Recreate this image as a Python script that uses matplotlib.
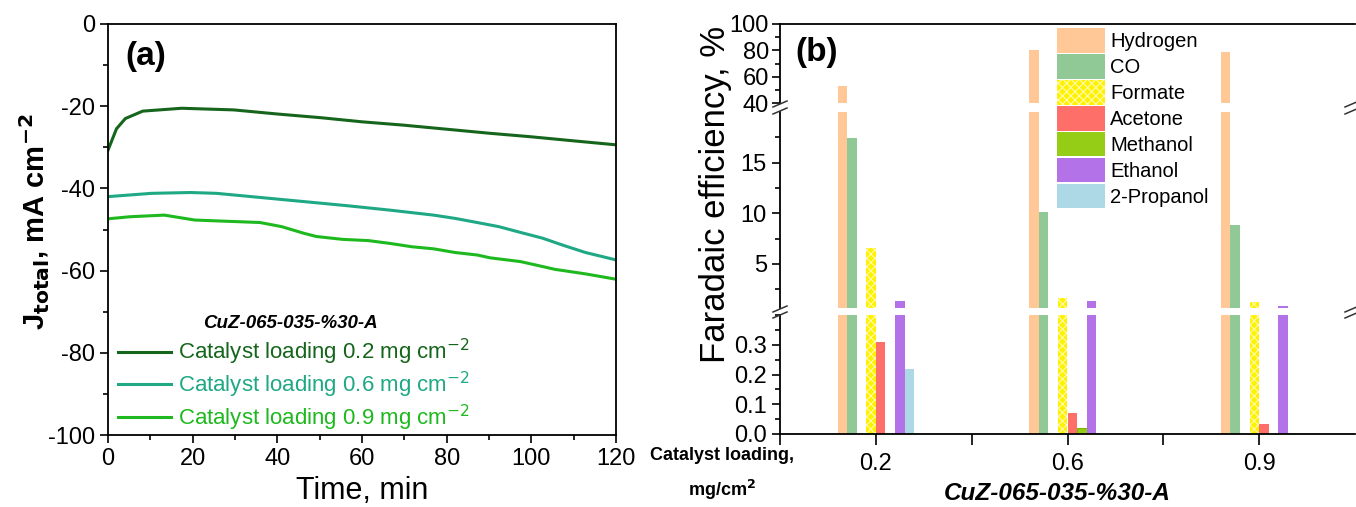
import numpy as np
import matplotlib
matplotlib.use("Agg")
import matplotlib.pyplot as plt
from matplotlib.lines import Line2D
from matplotlib.patches import Patch
from matplotlib.ticker import MultipleLocator

plt.rcParams['font.family'] = ['Liberation Sans', 'DejaVu Sans']
plt.rcParams['hatch.linewidth'] = 0.8
plt.rcParams['axes.unicode_minus'] = False

# panel (a): chronoamperometry
t_02 = [0, 2, 4.1, 8.2, 17.4, 29.7, 40, 50.3, 60, 69.7, 80, 90.3, 99.5, 109.7, 120]
j_02 = [-30.7, -25.5, -23.0, -21.2, -20.5, -20.9, -21.9, -22.8, -23.8, -24.6, -25.6, -26.6, -27.4, -28.4, -29.4]
t_06 = [0, 10.3, 19.5, 25.6, 35.9, 46.2, 56.4, 66.7, 76.9, 82, 87.2, 92.3, 97.4, 102.6, 107.7, 112.8, 120]
j_06 = [-42.0, -41.2, -41.0, -41.2, -42.2, -43.2, -44.2, -45.3, -46.5, -47.3, -48.3, -49.3, -50.7, -52.1, -53.9, -55.6, -57.4]
t_09 = [0, 5.1, 13.3, 20.5, 25.6, 35.9, 41, 46.2, 49.2, 55.4, 61.5, 66.7, 71.8, 76.9, 82, 87.2, 90.3, 97.4, 102.6, 105.6, 112.8, 120]
j_09 = [-47.4, -46.9, -46.5, -47.7, -47.9, -48.3, -49.3, -50.9, -51.7, -52.4, -52.7, -53.4, -54.2, -54.7, -55.6, -56.2, -56.9, -57.8, -59.0, -59.7, -60.8, -62.1]

# panel (b): faradaic efficiency, %
loadings = ['0.2', '0.6', '0.9']
products = ['Hydrogen', 'CO', 'Formate', 'Acetone', 'Methanol', 'Ethanol', '2-Propanol']
fe_hydrogen = [52.9, 80.2, 78.9]
fe_co = [17.4, 10.1, 8.8]
fe_formate = [6.6, 1.68, 1.22]
fe_acetone = [0.31, 0.072, 0.033]
fe_methanol = [0.0, 0.02, 0.0]
fe_ethanol = [1.32, 1.32, 0.85]
fe_propanol = [0.22, 0.0, 0.005]

W, H = 1356, 507
fig = plt.figure(figsize=(W / 100, H / 100), dpi=100)

def fx(px):
    return px / W

def fy(py):
    return 1 - py / H

tick_fs = 17

# ---------- (a) ----------
axa = fig.add_axes([fx(108), fy(435), fx(616) - fx(108), fy(24) - fy(435)])
c1, c2, c3 = '#16651c', '#1fa884', '#1eb91e'
axa.plot(t_02, j_02, color=c1, lw=2.2, label='Catalyst loading 0.2 mg cm$^{-2}$')
axa.plot(t_06, j_06, color=c2, lw=2.2, label='Catalyst loading 0.6 mg cm$^{-2}$')
axa.plot(t_09, j_09, color=c3, lw=2.2, label='Catalyst loading 0.9 mg cm$^{-2}$')
axa.set_xlim(0, 120)
axa.set_ylim(-100, 0)
axa.xaxis.set_major_locator(MultipleLocator(20))
axa.xaxis.set_minor_locator(MultipleLocator(10))
axa.yaxis.set_major_locator(MultipleLocator(20))
axa.yaxis.set_minor_locator(MultipleLocator(10))
axa.tick_params(which='both', direction='out', labelsize=tick_fs, width=1.2)
axa.tick_params(which='major', length=6)
axa.tick_params(which='minor', length=3.5)
for s in axa.spines.values():
    s.set_linewidth(1.3)
axa.set_xlabel('Time, min', fontsize=22, labelpad=4)
axa.set_ylabel(r'J$_{\mathbf{total}}$, mA cm$^{\mathbf{-2}}$', fontsize=21, fontweight='bold')
axa.yaxis.set_label_coords(-0.11, 0.52)
axa.text(0.034, 0.92, '(a)', transform=axa.transAxes, fontsize=24, fontweight='bold', va='center')
axa.text(fx(290), fy(324), 'CuZ-065-035-%30-A', transform=fig.transFigure, fontsize=13.5,
         fontweight='bold', style='italic', ha='center', va='center')
lega = axa.legend(loc='upper left', bbox_to_anchor=(fx(118), fy(337)), bbox_transform=fig.transFigure,
                  frameon=False, fontsize=16, borderpad=0, borderaxespad=0,
                  handlelength=2.4, handletextpad=0.3, labelspacing=0.12, labelcolor='linecolor')

# ---------- (b) ----------
left = fx(780)
width = fx(1355) - fx(780)
ax_top = fig.add_axes([left, fy(103), width, fy(24) - fy(103)])
ax_mid = fig.add_axes([left, fy(308), width, fy(112) - fy(308)])
ax_bot = fig.add_axes([left, fy(434), width, fy(315) - fy(434)])

series = [fe_hydrogen, fe_co, fe_formate, fe_acetone, fe_methanol, fe_ethanol, fe_propanol]
slots = [0, 1, 3, 4, 5, 6, 7]
colors = ['#ffc896', '#90c896', '#fff200', '#ff6f6a', '#94cc16', '#b372e8', '#add8e6']
bw = 0.05
xpos = np.arange(1, len(loadings) + 1)

for ax in (ax_top, ax_mid, ax_bot):
    for vals, slot, col, name in zip(series, slots, colors, products):
        off = (slot - 3.5) * bw
        if name == 'Formate':
            ax.bar(xpos + off, vals, width=bw, color=col, edgecolor='#fffbb0', hatch='xxxx', lw=0)
        elif name == 'Methanol':
            ax.bar(xpos + off, vals, width=bw, color=col, edgecolor='#7ab800', lw=0.8)
        else:
            ax.bar(xpos + off, vals, width=bw, color=col, lw=0)
    ax.set_xlim(0.5, 3.5)
    ax.tick_params(which='both', direction='out', labelsize=tick_fs, width=1.2)
    ax.tick_params(which='major', length=6)
    ax.tick_params(which='minor', length=3.5)
    for s in ax.spines.values():
        s.set_linewidth(1.3)

ax_top.set_ylim(40, 100)
ax_top.yaxis.set_major_locator(MultipleLocator(20))
ax_top.yaxis.set_minor_locator(MultipleLocator(10))
ax_mid.set_ylim(0.65, 20)
ax_mid.set_yticks([5, 10, 15])
ax_mid.set_yticks([2.5, 7.5, 12.5, 17.5], minor=True)
ax_bot.set_ylim(0, 0.4)
ax_bot.set_yticks([0.0, 0.1, 0.2, 0.3])
ax_bot.set_yticklabels(['0.0', '0.1', '0.2', '0.3'])
ax_bot.yaxis.set_minor_locator(MultipleLocator(0.05))
ax_top.tick_params(labelsize=tick_fs, pad=2)

for ax in (ax_top, ax_mid):
    ax.spines['bottom'].set_visible(False)
    ax.tick_params(axis='x', which='both', bottom=False, labelbottom=False)
for ax in (ax_mid, ax_bot):
    ax.spines['top'].set_visible(False)
for ax in (ax_top, ax_mid, ax_bot):
    ax.spines['right'].set_visible(False)

ax_bot.set_xticks([0.5, 1, 1.5, 2, 2.5, 3])
ax_bot.set_xticklabels(['', loadings[0], '', loadings[1], '', loadings[2]])
ax_bot.tick_params(axis='x', length=8, pad=6)

# break marks on the left and right edges
for xb in (780, 1352):
    for yb in (104, 111, 309, 315):
        fig.add_artist(Line2D([fx(xb - 7), fx(xb + 7)], [fy(yb + 3), fy(yb - 3)],
                              color='#333333', lw=1.1, transform=fig.transFigure))

fig.text(fx(716), fy(194), 'Faradaic efficiency, %', fontsize=25, rotation=90, ha='center', va='center')
fig.text(fx(817), fy(52), '(b)', fontsize=24, fontweight='bold', ha='center', va='center')
fig.text(fx(722), fy(456), 'Catalyst loading,', fontsize=13, fontweight='bold', ha='center', va='center')
fig.text(fx(722), fy(490), 'mg/cm$^{\\mathbf{2}}$', fontsize=13, fontweight='bold', ha='center', va='center')
fig.text(fx(1057), fy(494), 'CuZ-065-035-%30-A', fontsize=17.5, fontweight='bold', style='italic',
         ha='center', va='center')

handles = []
for col, name in zip(colors, products):
    if name == 'Formate':
        handles.append(Patch(facecolor=col, edgecolor='#fffbb0', hatch='xxxx', lw=0, label=name))
    else:
        handles.append(Patch(facecolor=col, lw=0, label=name))
fig.legend(handles=handles, loc='upper left', bbox_to_anchor=(fx(1057), fy(28)), frameon=False,
           fontsize=14.5, handlelength=2.4, handleheight=1.5, handletextpad=0.25, labelspacing=0.07,
           borderpad=0, borderaxespad=0)

fig.savefig('out.png', dpi=100)
